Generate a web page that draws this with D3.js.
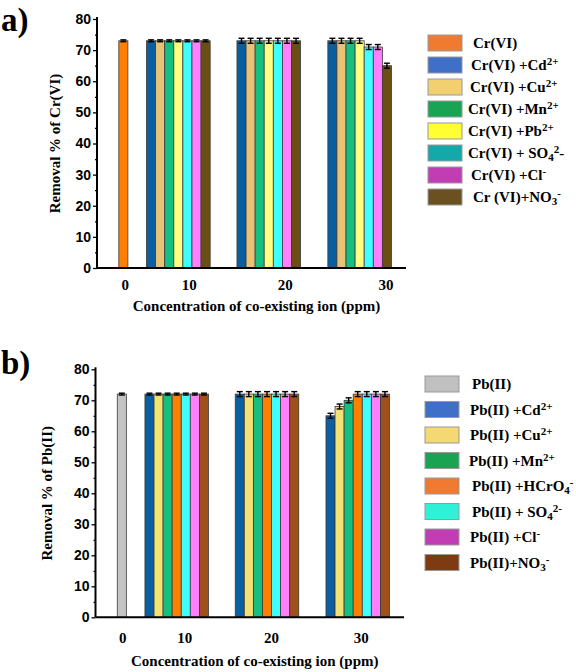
<!DOCTYPE html>
<html><head><meta charset="utf-8">
<script src="https://cdn.jsdelivr.net/npm/d3@7"></script>
<style>
body{margin:0;background:#fff;}
svg{display:block;}
</style></head>
<body>
<svg id="chart" width="576" height="672"></svg>
<script>
// ---------- DATA ----------
const concentrations = ["0", "10", "20", "30"];
const yTicks = [0, 10, 20, 30, 40, 50, 60, 70, 80];
const yMinorTicks = [5, 15, 25, 35, 45, 55, 65, 75];

// Panel a: Cr(VI)
const seriesA = ["Cr(VI)", "Cr(VI) +Cd2+", "Cr(VI) +Cu2+", "Cr(VI) +Mn2+", "Cr(VI) +Pb2+", "Cr(VI) + SO42-", "Cr(VI) +Cl-", "Cr (VI)+NO3-"];
const valuesA = [
  [73, null, null, null],
  [null, 73, 73, 73],
  [null, 73, 73, 73],
  [null, 73, 73, 73],
  [null, 73, 73, 73],
  [null, 73, 73, 71],
  [null, 73, 73, 71],
  [null, 73, 73, 65]
];
const errorsA = [
  [0.3, null, null, null],
  [null, 0.3, 0.8, 0.8],
  [null, 0.3, 0.8, 0.8],
  [null, 0.3, 0.8, 0.8],
  [null, 0.3, 0.8, 0.8],
  [null, 0.3, 0.8, 0.8],
  [null, 0.3, 0.8, 0.8],
  [null, 0.3, 0.8, 0.8]
];
const barColorsA = ["#ff8000", "#0a5fa0", "#e8c275", "#15bf80", "#ffff80", "#40ffff", "#ff80ff", "#6b4e14"];
const legendColorsA = ["#f07a30", "#3f6fc6", "#f2d070", "#1aa352", "#ffff33", "#14a8a8", "#c23cb4", "#6b5020"];
const legendLabelsA = [
  [["Cr(VI)", ""]],
  [["Cr(VI) +Cd", ""], ["2+", "sup"]],
  [["Cr(VI) +Cu", ""], ["2+", "sup"]],
  [["Cr(VI) +Mn", ""], ["2+", "sup"]],
  [["Cr(VI) +Pb", ""], ["2+", "sup"]],
  [["Cr(VI) + SO", ""], ["4", "sub"], ["2", "sup"], ["-", ""]],
  [["Cr(VI) +Cl", ""], ["-", "sup"]],
  [["Cr (VI)+NO", ""], ["3", "sub"], ["-", "sup"]]
];

// Panel b: Pb(II)
const seriesB = ["Pb(II)", "Pb(II) +Cd2+", "Pb(II) +Cu2+", "Pb(II) +Mn2+", "Pb(II) +HCrO4-", "Pb(II) + SO42-", "Pb(II) +Cl-", "Pb(II)+NO3-"];
const valuesB = [
  [72, null, null, null],
  [null, 72, 72, 65],
  [null, 72, 72, 68],
  [null, 72, 72, 70],
  [null, 72, 72, 72],
  [null, 72, 72, 72],
  [null, 72, 72, 72],
  [null, 72, 72, 72]
];
const errorsB = [
  [0.3, null, null, null],
  [null, 0.3, 0.8, 0.8],
  [null, 0.3, 0.8, 0.8],
  [null, 0.3, 0.8, 0.8],
  [null, 0.3, 0.8, 0.8],
  [null, 0.3, 0.8, 0.8],
  [null, 0.3, 0.8, 0.8],
  [null, 0.3, 0.8, 0.8]
];
const barColorsB = ["#c4c4c4", "#0a5fa0", "#f2e274", "#15bf80", "#ff8000", "#40ffff", "#ff80ff", "#a0501a"];
const legendColorsB = ["#c0c0c0", "#3f6fc6", "#f4d872", "#1aa352", "#f07a30", "#30f0d8", "#c23cb4", "#7e3a10"];
const legendLabelsB = [
  [["Pb(II)", ""]],
  [["Pb(II) +Cd", ""], ["2+", "sup"]],
  [["Pb(II) +Cu", ""], ["2+", "sup"]],
  [["Pb(II) +Mn", ""], ["2+", "sup"]],
  [["Pb(II) +HCrO", ""], ["4", "sub"], ["-", "sup"]],
  [["Pb(II) + SO", ""], ["4", "sub"], ["2-", "sup"]],
  [["Pb(II) +Cl", ""], ["-", "sup"]],
  [["Pb(II)+NO", ""], ["3", "sub"], ["-", "sup"]]
];

// ---------- LAYOUT ----------
const SERIF = "'Liberation Serif','Times New Roman',serif";
const SANS = "'Liberation Sans',Arial,sans-serif";
const slotLayout = {lead: 2.4, gaps: [2.05, 2.95, 3.0], trail: 1.6};

const panels = [
  {tag: "a)", tagY: 31, values: valuesA, errors: errorsA, colors: barColorsA, legendColors: legendColorsA, labels: legendLabelsA,
   x0: 97, x1: 406, yTop: 19, yBot: 268, title: "Removal % of Cr(VI)", titleX: 60, tickLabelY: 290, xTitleY: 311,
   tickNudge: [0.2, 1.2, 1.8, 2.9], legendX: 428, legendTextX: 470, legendY0: 43, legendDy: 22, legendNudge: [3,1,0,-2,-2,-2,1,3]},
  {tag: "b)", tagY: 374, values: valuesB, errors: errorsB, colors: barColorsB, legendColors: legendColorsB, labels: legendLabelsB,
   x0: 95.5, x1: 404, yTop: 369.3, yBot: 617.3, title: "Removal % of Pb(II)", titleX: 52, tickLabelY: 643, xTitleY: 666,
   tickNudge: [0.1, 0.9, 0.5, 0.4], legendX: 425, legendTextX: 470, legendY0: 384, legendDy: 25.5, legendNudge: [2,0,0,-1,2,2,0,0]}
];

const svg = d3.select("#chart");

panels.forEach(p => {
  const g = svg.append("g");
  // group sizes: number of non-null series in each concentration group
  const groupMembers = concentrations.map((c, gi) => p.values.map((s, si) => s[gi] != null ? si : -1).filter(si => si >= 0));
  const starts = [];
  let cur = slotLayout.lead;
  groupMembers.forEach((m, gi) => {
    starts.push(cur);
    cur += m.length + (gi < slotLayout.gaps.length ? slotLayout.gaps[gi] : 0);
  });
  const total = cur + slotLayout.trail;

  const x = d3.scaleLinear().domain([0, total]).range([p.x0, p.x1]);
  const y = d3.scaleLinear().domain([0, 80]).range([p.yBot, p.yTop]);
  const bw = x(1) - x(0);

  const bars = [];
  groupMembers.forEach((m, gi) => {
    m.forEach((si, k) => {
      bars.push({gi, si, k, v: p.values[si][gi], e: p.errors[si][gi]});
    });
  });

  g.selectAll("rect.bar").data(bars).join("rect")
    .attr("class", "bar")
    .attr("x", d => x(starts[d.gi] + d.k))
    .attr("width", bw)
    .attr("y", d => y(d.v))
    .attr("height", d => y(0) - y(d.v))
    .attr("fill", d => p.colors[d.si])
    .attr("stroke", "#3a3a3a")
    .attr("stroke-width", 0.8);

  // error bars
  const eb = g.selectAll("g.err").data(bars).join("g").attr("class", "err")
    .attr("stroke", "#000").attr("stroke-width", 1.4);
  eb.append("line")
    .attr("x1", d => x(starts[d.gi] + d.k + 0.5)).attr("x2", d => x(starts[d.gi] + d.k + 0.5))
    .attr("y1", d => y(d.v - d.e)).attr("y2", d => y(d.v + d.e));
  eb.append("line")
    .attr("x1", d => x(starts[d.gi] + d.k + 0.5) - 3).attr("x2", d => x(starts[d.gi] + d.k + 0.5) + 3)
    .attr("y1", d => y(d.v + d.e)).attr("y2", d => y(d.v + d.e));
  eb.append("line")
    .attr("x1", d => x(starts[d.gi] + d.k + 0.5) - 3).attr("x2", d => x(starts[d.gi] + d.k + 0.5) + 3)
    .attr("y1", d => y(d.v - d.e)).attr("y2", d => y(d.v - d.e));

  // y axis
  const yAxis = g.append("g").attr("transform", `translate(${p.x0},0)`)
    .call(d3.axisLeft(y).tickValues(yTicks).tickSize(4).tickSizeOuter(0).tickPadding(2));
  yAxis.select(".domain").attr("stroke-width", 2).attr("d", `M0,${y(80) - 2}V${y(0)}`);
  yAxis.selectAll(".tick line").attr("stroke-width", 1.3);
  yAxis.selectAll(".tick text").attr("font-family", SANS).attr("font-weight", "bold").attr("font-size", 14).attr("fill", "#000");
  const yMinor = g.append("g").attr("transform", `translate(${p.x0},0)`)
    .call(d3.axisLeft(y).tickValues(yMinorTicks).tickSize(2).tickFormat(""));
  yMinor.select(".domain").remove();
  yMinor.selectAll(".tick line").attr("stroke-width", 1.2);

  // x axis line
  g.append("line").attr("x1", x(0)).attr("x2", x(total)).attr("y1", y(0)).attr("y2", y(0))
    .attr("stroke", "#000").attr("stroke-width", 2);

  // x tick labels
  g.selectAll("text.xt").data(concentrations).join("text")
    .attr("class", "xt")
    .attr("x", (c, gi) => x(starts[gi] + groupMembers[gi].length / 2 + p.tickNudge[gi]))
    .attr("y", p.tickLabelY)
    .attr("text-anchor", "middle")
    .attr("font-family", SERIF).attr("font-weight", "bold").attr("font-size", 15)
    .text(c => c);

  // axis titles
  g.append("text")
    .attr("transform", `translate(${p.titleX},${(y(0) + y(80)) / 2}) rotate(-90)`)
    .attr("text-anchor", "middle")
    .attr("font-family", SERIF).attr("font-weight", "bold").attr("font-size", 15)
    .text(p.title);
  g.append("text")
    .attr("x", (x(0) + x(total)) / 2 + 5)
    .attr("y", p.xTitleY)
    .attr("text-anchor", "middle")
    .attr("font-family", SERIF).attr("font-weight", "bold").attr("font-size", 15)
    .text("Concentration of co-existing ion (ppm)");

  // panel tag
  g.append("text").attr("x", 1).attr("y", p.tagY)
    .attr("font-family", SERIF).attr("font-weight", "bold").attr("font-size", 33)
    .text(p.tag);

  // legend
  const leg = g.selectAll("g.leg").data(p.labels).join("g").attr("class", "leg")
    .attr("transform", (d, i) => `translate(0,${p.legendY0 + i * p.legendDy})`);
  leg.append("rect")
    .attr("x", p.legendX).attr("y", -8).attr("width", 34).attr("height", 16)
    .attr("fill", (d, i) => p.legendColors[i])
    .attr("stroke", "#999").attr("stroke-width", 1);
  const t = leg.append("text")
    .attr("x", (d, i) => p.legendTextX + p.legendNudge[i])
    .attr("y", 5)
    .attr("font-family", SERIF).attr("font-weight", "bold").attr("font-size", 15);
  t.each(function(parts) {
    const el = d3.select(this);
    let shift = 0;
    parts.forEach(([txt, kind]) => {
      const target = kind === "sup" ? -5 : kind === "sub" ? 3 : 0;
      el.append("tspan")
        .attr("dy", target - shift)
        .attr("font-size", kind ? 11 : 15)
        .text(txt);
      shift = target;
    });
  });
});
</script>
</body></html>
